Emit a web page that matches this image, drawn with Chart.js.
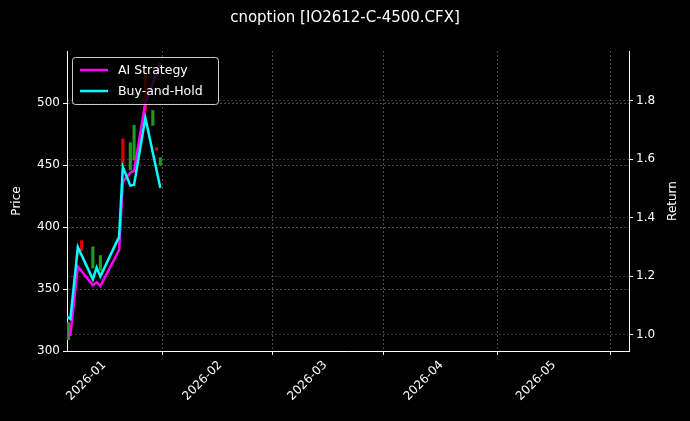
<!DOCTYPE html>
<html><head><meta charset="utf-8">
<script src="https://cdn.jsdelivr.net/npm/chart.js@4"></script>
<style>html,body{margin:0;background:#000}</style></head>
<body><canvas id="c" width="690" height="421"></canvas>
<script>
// days since 2026-01-01
const lineDays = [-10,-9,-7,-3,-2,-1,4,5,7,8,11,15];
const aiReturn = [0.998,1.0,1.233,1.17,1.18,1.167,1.29,1.523,1.554,1.561,1.794,1.93];
const bhReturn = [1.063,1.055,1.30,1.19,1.23,1.20,1.335,1.574,1.51,1.513,1.742,1.503];
const candleDays = [-9.5,-6,-3,-1,5,7,8,11,13,14,15];
const candleLow  = [309,381,367,365,450,446,454,494,482,462,450];
const candleHigh = [323,389,384,377,471,468,482,525,494,464,456];
const candleUp   = [1,0,1,1,0,1,1,0,1,0,1];
const monthTicks = [0,31,59,90,120];
const monthLabels = ['2026-01','2026-02','2026-03','2026-04','2026-05'];
const title = 'cnoption [IO2612-C-4500.CFX]';

const candleData = candleDays.map((d,i)=>({x:d,y:[candleLow[i],candleHigh[i]]}));
const candleColors = candleUp.map(u=>u?'#1f9a1f':'#e00000');

const overlay = {
  id:'overlay',
  afterDraw(ch){
    const c=ch.ctx, a=ch.chartArea;
    c.save();
    c.fillStyle='#fff'; c.font='15px "DejaVu Sans"'; c.textAlign='center'; c.textBaseline='middle';
    c.fillText(title,345,18);
    c.font='12px "DejaVu Sans"';
    [['Price',17],['Return',673]].forEach(t=>{
      c.save(); c.translate(t[1],(a.top+a.bottom)/2); c.rotate(-Math.PI/2); c.fillText(t[0],0,0); c.restore();
    });
    // legend
    c.fillStyle='rgba(0,0,0,0.8)'; c.strokeStyle='#ccc'; c.lineWidth=1;
    const x=a.left+5,y=a.top+6,w=146,h=47;
    c.beginPath(); c.roundRect(x+0.5,y+0.5,w,h,3); c.fill(); c.stroke();
    c.font='12.5px "DejaVu Sans"'; c.textAlign='left'; c.fillStyle='#fff';
    [['AI Strategy','#ff00ff'],['Buy-and-Hold','#00ffff']].forEach((e,i)=>{
      const yy=y+13+i*21;
      c.strokeStyle=e[1]; c.lineWidth=2.5; c.beginPath(); c.moveTo(x+8,yy); c.lineTo(x+36,yy); c.stroke();
      c.fillText(e[0],x+46,yy+1);
    });
    c.restore();
  }
};

new Chart(document.getElementById('c'),{
  data:{datasets:[
    {type:'line',label:'AI Strategy',data:lineDays.map((d,i)=>({x:d,y:aiReturn[i]})),yAxisID:'y1',borderColor:'#ff00ff',borderWidth:2.5,pointRadius:0,order:1},
    {type:'line',label:'Buy-and-Hold',data:lineDays.map((d,i)=>({x:d,y:bhReturn[i]})),yAxisID:'y1',borderColor:'#00ffff',borderWidth:2.5,pointRadius:0,order:0},
    {type:'bar',data:candleData,yAxisID:'y',backgroundColor:candleColors,barThickness:2.5,order:2}
  ]},
  options:{
    responsive:false,animation:false,
    layout:{padding:{top:51,right:0,left:0,bottom:0}},
    plugins:{legend:{display:false},tooltip:{enabled:false}},
    scales:{
      x:{type:'linear',min:-9.9,max:140.05,offset:false,
        afterBuildTicks(s){s.ticks=monthTicks.map(v=>({value:v}));},
        afterFit(s){s.height=70;},
        ticks:{color:'#fff',font:{size:12,family:'DejaVu Sans'},minRotation:45,maxRotation:45,callback(v){const i=monthTicks.indexOf(v);return i>=0?monthLabels[i]:'';}},
        grid:{color:'rgba(160,160,160,0.45)',tickColor:'#fff',tickLength:4},
        border:{color:'#fff',dash:[2,2]}},
      y:{position:'left',min:300,max:542,
        afterBuildTicks(s){s.ticks=[300,350,400,450,500].map(v=>({value:v}));},
        afterFit(s){s.width=67;},
        ticks:{color:'#fff',font:{size:12,family:'DejaVu Sans'}},
        grid:{color:'rgba(160,160,160,0.45)',tickColor:'#fff',tickLength:4},
        border:{color:'#fff',dash:[2,2]}},
      y1:{position:'right',min:0.945,max:1.97,
        afterBuildTicks(s){s.ticks=[1.0,1.2,1.4,1.6,1.8].map(v=>({value:v}));},
        afterFit(s){s.width=61;},
        ticks:{color:'#fff',font:{size:12,family:'DejaVu Sans'},callback:v=>v.toFixed(1)},
        grid:{color:'rgba(160,160,160,0.35)',tickColor:'#fff',tickLength:4},
        border:{color:'#fff',dash:[2,2]}}
    }
  },
  plugins:[{id:'bg',beforeDraw(ch){const c=ch.ctx;c.save();c.fillStyle='#000';c.fillRect(0,0,690,421);c.restore();}},overlay]
});
</script></body></html>
